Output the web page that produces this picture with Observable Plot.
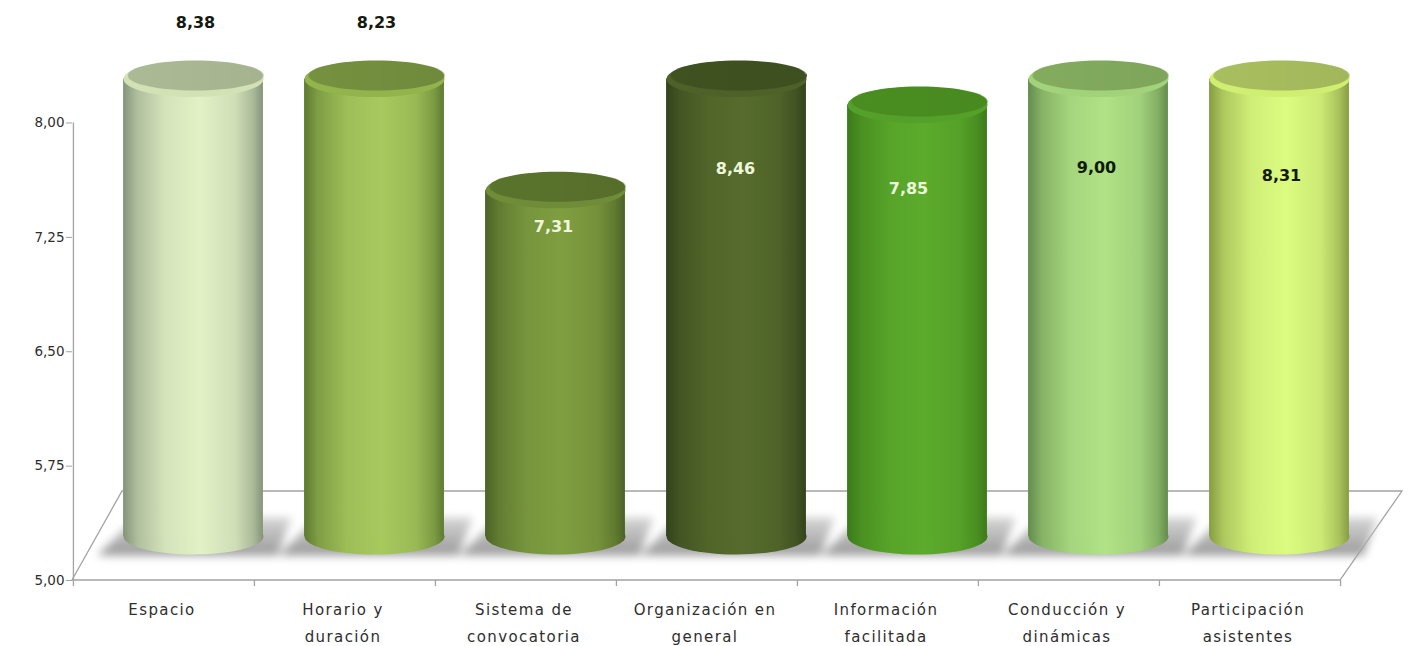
<!DOCTYPE html>
<html><head><meta charset="utf-8">
<script src="https://cdn.jsdelivr.net/npm/d3@7"></script>
<script src="https://cdn.jsdelivr.net/npm/@observablehq/plot@0.6"></script>
<style>html,body{margin:0;padding:0;background:#fff;overflow:hidden}svg{display:block}
g[aria-label="x-axis tick label"] text{letter-spacing:1.4px}</style>
</head><body><div id="chart"></div>
<script>
const categories = ["Espacio","Horario y\nduración","Sistema de\nconvocatoria","Organización en\ngeneral","Información\nfacilitada","Conducción y\ndinámicas","Participación\nasistentes"];
const valueLabels = ["8,38","8,23","7,31","8,46","7,85","9,00","8,31"];
const barHeights = [8,8,7.27,8,7.83,8,8];
const labelLevels = [8.65,8.65,7.31,7.69,7.56,7.70,7.65];
const labelShift = [2,2,-2,-1,-9,-2,2];
const labelColors = ["#141a10","#141a10","#eef6dc","#eef6dc","#eef6dc","#0e1a08","#141a10"];
const yTicks = [5,5.75,6.5,7.25,8];
const edgeColors = ["#84947a","#5d7a30","#4b6226","#33431b","#3c7a1a","#648c4c","#879c42"];
const midColors = ["#e3f1c6","#a8c95e","#7f9e40","#566b2c","#5cab2c","#b0e286","#dcfc80"];
const rimColors = ["#d2e2b4","#93b34c","#6f8c38","#4d6128","#55a02a","#a2d27a","#cfee72"];
const faceColors = ["#a5b48e","#6f8a3c","#566e2a","#3e4f20","#488a20","#7ea55a","#a2b75a"];

const rows = categories.map((category,i)=>({category,i,height:barHeights[i],label:valueLabels[i],level:labelLevels[i],labelColor:labelColors[i]}));
const depthX = 29.5, depthY = -44, rx = 70, ry = 18;

const ellipse = (a,b) => ({draw(c){const k=0.5523;c.moveTo(-a,0);
  c.bezierCurveTo(-a,-k*b,-k*a,-b,0,-b);c.bezierCurveTo(k*a,-b,a,-k*b,a,0);
  c.bezierCurveTo(a,k*b,k*a,b,0,b);c.bezierCurveTo(-k*a,b,-a,k*b,-a,0);c.closePath();}});
const shadowShape = {draw(c){c.moveTo(-58,-19);c.lineTo(98,-19);c.lineTo(84,19);c.lineTo(-96,19);c.closePath();}};

const defs = () => {
  const d = d3.create("svg:defs");
  rows.forEach(({i})=>{
    const mix = d3.interpolateRgb(edgeColors[i],midColors[i]);
    const g = d.append("linearGradient").attr("id","body"+i);
    [[0,0],[.1,.45],[.3,.85],[.55,1],[.8,.8],[.93,.4],[1,0]].forEach(([o,t])=>g.append("stop").attr("offset",o).attr("stop-color",mix(t)));
    const f = d.append("linearGradient").attr("id","face"+i);
    f.append("stop").attr("offset",0).attr("stop-color",d3.interpolateRgb(faceColors[i],midColors[i])(.12));
    f.append("stop").attr("offset",1).attr("stop-color",faceColors[i]);
  });
  const s = d.append("linearGradient").attr("id","shadow").attr("x1",0).attr("x2",0).attr("y1",0).attr("y2",1);
  s.append("stop").attr("offset",0).attr("stop-color","#d6d6d6");
  s.append("stop").attr("offset",1).attr("stop-color","#9a9a9a");
  return d.node();
};

const axisGrey = "#a3a3a3", textFont = "'DejaVu Sans'";
const floor = Plot.ruleY([5],{render(index,{y},values,{width,marginLeft,marginRight}){
  const y0=y(5), l=marginLeft, r=width-marginRight;
  const p=d3.create("svg:path").attr("d",`M${l},${y0}L${l+50},${y0-89}L${r+62},${y0-89}L${r},${y0}Z`).attr("fill","#fff").attr("stroke",axisGrey).attr("stroke-width",1.3);
  return p.node();
}});
const step = 1268/7;

const chart = Plot.plot({
  width:1409,height:646,marginLeft:72,marginRight:69,marginTop:122.5,marginBottom:66,
  style:{background:"#fff"},
  x:{type:"band",domain:categories,padding:0},
  y:{domain:[5,8]},
  color:{type:"identity"},
  marks:[
    defs,
    floor,
    Plot.ruleX([0],{x:()=>categories[0],y1:5,y2:8,dx:-step/2,stroke:axisGrey,strokeWidth:1.3}),
    Plot.ruleX(categories,{y1:5,y2:4.96,dx:-step/2,stroke:axisGrey,strokeWidth:1.3}),
    Plot.ruleX([categories[6]],{y1:5,y2:4.96,dx:step/2,stroke:axisGrey,strokeWidth:1.3}),
    Plot.axisY({ticks:yTicks,tickFormat:d=>d3.format(".2f")(d).replace(".",","),tickSize:6,tickPadding:2,stroke:axisGrey,fontSize:13.5,fontFamily:textFont,fill:"#2e2e2e",label:null}),
    Plot.axisX({tickSize:0,tickPadding:15,fontSize:15,fontFamily:textFont,fill:"#2e2e2e",lineHeight:1.8,label:null,tickFormat:d=>d,dx:-2}),
    Plot.dot(rows,{x:"category",y:()=>5,dx:depthX,dy:depthY,symbol:shadowShape,r:1,fill:()=>"url(#shadow)",stroke:"none",imageFilter:"blur(4px)"}),
    Plot.dot(rows,{x:"category",y:()=>5,dx:depthX,dy:depthY,symbol:ellipse(rx,ry),r:1,fill:d=>`url(#body${d.i})`,stroke:"none"}),
    Plot.rectY(rows,{x:"category",y1:()=>5,y2:"height",dx:depthX,dy:depthY,insetLeft:step/2-rx,insetRight:step/2-rx,fill:d=>`url(#body${d.i})`}),
    Plot.dot(rows,{x:"category",y:"height",dx:depthX,dy:depthY,symbol:ellipse(rx,ry),r:1,fill:d=>rimColors[d.i],stroke:"none"}),
    Plot.dot(rows,{x:"category",y:"height",dx:depthX+2,dy:depthY-3.5,symbol:ellipse(rx-2,ry-3),r:1,fill:d=>`url(#face${d.i})`,stroke:"none",imageFilter:"blur(0.7px)"}),
    rows.map(d=>Plot.text([d],{x:"category",y:"level",text:"label",dx:depthX+labelShift[d.i],dy:-1,fontSize:16,fontWeight:"bold",fontFamily:textFont,fill:d.labelColor}))
  ]
});
document.getElementById("chart").append(chart);
</script></body></html>
